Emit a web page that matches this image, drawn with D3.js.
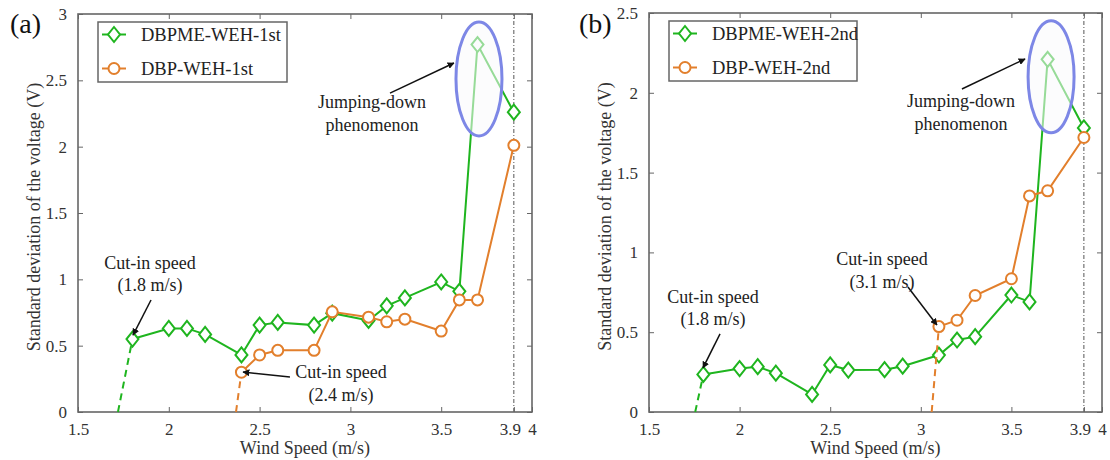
<!DOCTYPE html>
<html>
<head>
<meta charset="utf-8">
<script src="https://cdn.jsdelivr.net/npm/d3@7"></script>
</head>
<body style="margin:0">
<svg id="chart" width="1110" height="460" font-family="Tinos" style="font-family: Tinos, 'Liberation Serif'"></svg>
<script>
// ---- data ----
const X_TICKS = [1.5, 2, 2.5, 3, 3.5, 3.9, 4];
const Y_TICKS_A = [0, 0.5, 1, 1.5, 2, 2.5, 3];
const Y_TICKS_B = [0, 0.5, 1, 1.5, 2, 2.5];

const SPEED_FULL = [1.8, 2.0, 2.1, 2.2, 2.4, 2.5, 2.6, 2.8, 2.9, 3.1, 3.2, 3.3, 3.5, 3.6, 3.7, 3.9];
const STD_A_GREEN = [0.55, 0.63, 0.63, 0.585, 0.43, 0.655, 0.675, 0.655, 0.745, 0.69, 0.80, 0.86, 0.98, 0.91, 2.77, 2.26];
const SPEED_A_ORANGE = [2.4, 2.5, 2.6, 2.8, 2.9, 3.1, 3.2, 3.3, 3.5, 3.6, 3.7, 3.9];
const STD_A_ORANGE = [0.30, 0.43, 0.465, 0.465, 0.755, 0.715, 0.68, 0.70, 0.61, 0.845, 0.845, 2.01];

const STD_B_GREEN = [0.235, 0.272, 0.284, 0.243, 0.11, 0.295, 0.263, 0.265, 0.287, 0.357, 0.451, 0.472, 0.733, 0.69, 2.21, 1.78];
const SPEED_B_ORANGE = [3.1, 3.2, 3.3, 3.5, 3.6, 3.7, 3.9];
const STD_B_ORANGE = [0.535, 0.575, 0.73, 0.835, 1.354, 1.386, 1.72];

// where the dashed cut-in lines meet the x axis
const CUTIN_START_A = [1.72, 2.37];
const CUTIN_START_B = [1.755, 3.06];

const GREEN = "#1fb51f";
const ORANGE = "#e27f2c";
const AXIS = "#666";
const FONT = "Tinos, 'Liberation Serif'";

const svg = d3.select("#chart");

svg.append("defs").append("marker")
  .attr("id", "arrow")
  .attr("viewBox", "0 0 10 10")
  .attr("refX", 9).attr("refY", 5)
  .attr("markerWidth", 7).attr("markerHeight", 7)
  .attr("markerUnits", "userSpaceOnUse")
  .attr("orient", "auto")
  .append("path").attr("d", "M0,0 L10,5 L0,10 Z").attr("fill", "#111");

const panels = [
  {
    tag: "(a)", tagX: 10,
    left: 78, right: 532, top: 14, bottom: 412,
    yMax: 3, yTicks: Y_TICKS_A, titleX: 40,
    green: { x: SPEED_FULL, y: STD_A_GREEN, name: "DBPME-WEH-1st", start: CUTIN_START_A[0] },
    orange: { x: SPEED_A_ORANGE, y: STD_A_ORANGE, name: "DBP-WEH-1st", start: CUTIN_START_A[1] },
    legendW: 189,
    ellipse: { x: 3.708, y: 2.51, rx: 23, ry: 57 },
    notes: [
      { lines: ["Cut-in speed", "(1.8 m/s)"], x: 1.896, y: 1.078, from: [1.902, 0.844], to: [1.803, 0.58] },
      { lines: ["Cut-in speed", "(2.4 m/s)"], x: 2.948, y: 0.256, from: [2.667, 0.264], to: [2.409, 0.301] },
      { lines: ["Jumping-down", "phenomenon"], x: 3.119, y: 2.291, from: [3.218, 2.404], to: [3.57, 2.631] }
    ]
  },
  {
    tag: "(b)", tagX: 579,
    left: 649, right: 1102, top: 13, bottom: 412,
    yMax: 2.5, yTicks: Y_TICKS_B, titleX: 611,
    green: { x: SPEED_FULL, y: STD_B_GREEN, name: "DBPME-WEH-2nd", start: CUTIN_START_B[0] },
    orange: { x: SPEED_B_ORANGE, y: STD_B_ORANGE, name: "DBP-WEH-2nd", start: CUTIN_START_B[1] },
    legendW: 188,
    ellipse: { x: 3.719, y: 2.10, rx: 23, ry: 56 },
    notes: [
      { lines: ["Cut-in speed", "(1.8 m/s)"], x: 1.853, y: 0.683, from: [1.892, 0.489], to: [1.798, 0.276] },
      { lines: ["Cut-in speed", "(3.1 m/s)"], x: 2.786, y: 0.921, from: [2.929, 0.783], to: [3.089, 0.545] },
      { lines: ["Jumping-down", "phenomenon"], x: 3.222, y: 1.911, from: [3.227, 2.024], to: [3.575, 2.212] }
    ]
  }
];

panels.forEach(drawPanel);

function diamond(g, color) {
  g.append("path")
    .attr("d", "M0,-7.5 L6,0 L0,7.5 L-6,0 Z")
    .attr("fill", "#fff")
    .attr("stroke", color)
    .attr("stroke-width", 2);
}

function circle(g, color) {
  g.append("circle")
    .attr("r", 5.5)
    .attr("fill", "#fff")
    .attr("stroke", color)
    .attr("stroke-width", 2);
}

function label(parent, size) {
  return parent.append("text")
    .attr("font-family", "Tinos")
    .style("font-family", FONT)
    .style("font-size", size + "px");
}

function drawPanel(p) {
  const x = d3.scaleLinear().domain([1.5, 4]).range([p.left, p.right]);
  const y = d3.scaleLinear().domain([0, p.yMax]).range([p.bottom, p.top]);
  const g = svg.append("g");
  const w = p.right - p.left, h = p.bottom - p.top;

  // axes: ticks point inward and are mirrored on top/right
  const tickStyle = a => {
    a.attr("font-family", "Tinos").attr("font-size", 17);
    a.select(".domain").remove();
    a.selectAll("line").attr("stroke", AXIS).attr("stroke-width", 1);
    a.selectAll("text").attr("fill", "#333")
      .style("font-family", FONT).style("font-size", "17px");
  };
  g.append("g").attr("transform", `translate(0,${p.bottom})`)
    .call(d3.axisBottom(x).tickValues(X_TICKS).tickFormat(d3.format("")).tickSizeInner(-5).tickPadding(11))
    .call(tickStyle);
  g.append("g").attr("transform", `translate(0,${p.top})`)
    .call(d3.axisTop(x).tickValues(X_TICKS).tickFormat("").tickSizeInner(-5))
    .call(tickStyle);
  g.append("g").attr("transform", `translate(${p.left},0)`)
    .call(d3.axisLeft(y).tickValues(p.yTicks).tickFormat(d3.format("")).tickSizeInner(-5).tickPadding(11))
    .call(tickStyle);
  g.append("g").attr("transform", `translate(${p.right},0)`)
    .call(d3.axisRight(y).tickValues(p.yTicks).tickFormat("").tickSizeInner(-5))
    .call(tickStyle);

  // nudge the 3.9 label so it does not crowd the 4
  g.selectAll(".tick text").filter(d => d === 3.9).attr("dx", -4);

  // dash-dot reference line at 3.9 m/s
  g.append("line")
    .attr("x1", x(3.9)).attr("x2", x(3.9))
    .attr("y1", y(0)).attr("y2", y(p.yMax))
    .attr("stroke", "#555").attr("stroke-width", 1)
    .attr("stroke-dasharray", "4,2,1,2");

  // frame
  g.append("rect")
    .attr("x", p.left).attr("y", p.top).attr("width", w).attr("height", h)
    .attr("fill", "none").attr("stroke", AXIS).attr("stroke-width", 1.6);

  // axis titles
  label(g, 18)
    .attr("x", (p.left + p.right) / 2).attr("y", 454)
    .attr("text-anchor", "middle").attr("fill", "#333")
    .text("Wind Speed (m/s)");
  label(g, 18)
    .attr("transform", `translate(${p.titleX},${(p.top + p.bottom) / 2 + 4}) rotate(-90)`)
    .attr("text-anchor", "middle").attr("fill", "#333")
    .text("Standard deviation of the voltage (V)");

  // panel tag
  label(g, 28)
    .attr("x", p.tagX).attr("y", 33)
    .attr("fill", "#111")
    .text(p.tag);

  const line = d3.line().x(d => x(d[0])).y(d => y(d[1]));

  [[p.green, GREEN, diamond], [p.orange, ORANGE, circle]].forEach(([s, color, mark]) => {
    const pts = s.x.map((v, i) => [v, s.y[i]]);
    // dashed cut-in extension down to zero
    g.append("path")
      .attr("d", line([[s.start, 0], pts[0]]))
      .attr("fill", "none").attr("stroke", color)
      .attr("stroke-width", 2).attr("stroke-dasharray", "7,5");
    g.append("path")
      .attr("d", line(pts))
      .attr("fill", "none").attr("stroke", color).attr("stroke-width", 2);
    g.selectAll(null).data(pts).enter().append("g")
      .attr("transform", d => `translate(${x(d[0])},${y(d[1])})`)
      .each(function() { mark(d3.select(this), color); });
  });

  // highlight ellipse (semi transparent, washes out what is behind)
  g.append("ellipse")
    .attr("cx", x(p.ellipse.x)).attr("cy", y(p.ellipse.y))
    .attr("rx", p.ellipse.rx).attr("ry", p.ellipse.ry)
    .attr("fill", "rgba(250,250,252,0.55)")
    .attr("stroke", "#7d87e6").attr("stroke-width", 3);

  // annotations
  p.notes.forEach(n => {
    n.lines.forEach((s, i) => {
      label(g, 18)
        .attr("x", x(n.x)).attr("y", y(n.y) + i * 22.5)
        .attr("text-anchor", "middle").attr("fill", "#222")
        .text(s);
    });
    g.append("line")
      .attr("x1", x(n.from[0])).attr("y1", y(n.from[1]))
      .attr("x2", x(n.to[0])).attr("y2", y(n.to[1]))
      .attr("stroke", "#111").attr("stroke-width", 1.5)
      .attr("marker-end", "url(#arrow)");
  });

  // legend
  const lg = g.append("g").attr("transform", `translate(${p.left + 20},${p.top + 8})`);
  lg.append("rect")
    .attr("width", p.legendW).attr("height", 60)
    .attr("fill", "#fff").attr("stroke", AXIS).attr("stroke-width", 1.5);
  [[p.green, GREEN, diamond], [p.orange, ORANGE, circle]].forEach(([s, color, mark], i) => {
    const row = lg.append("g").attr("transform", `translate(0,${12.5 + i * 34})`);
    row.append("line").attr("x1", 4).attr("x2", 28)
      .attr("stroke", color).attr("stroke-width", 2);
    mark(row.append("g").attr("transform", "translate(16,0)"), color);
    label(row, 18.5).attr("x", 43).attr("y", 6)
      .attr("fill", "#222")
      .text(s.name);
  });
}
</script>
</body>
</html>
